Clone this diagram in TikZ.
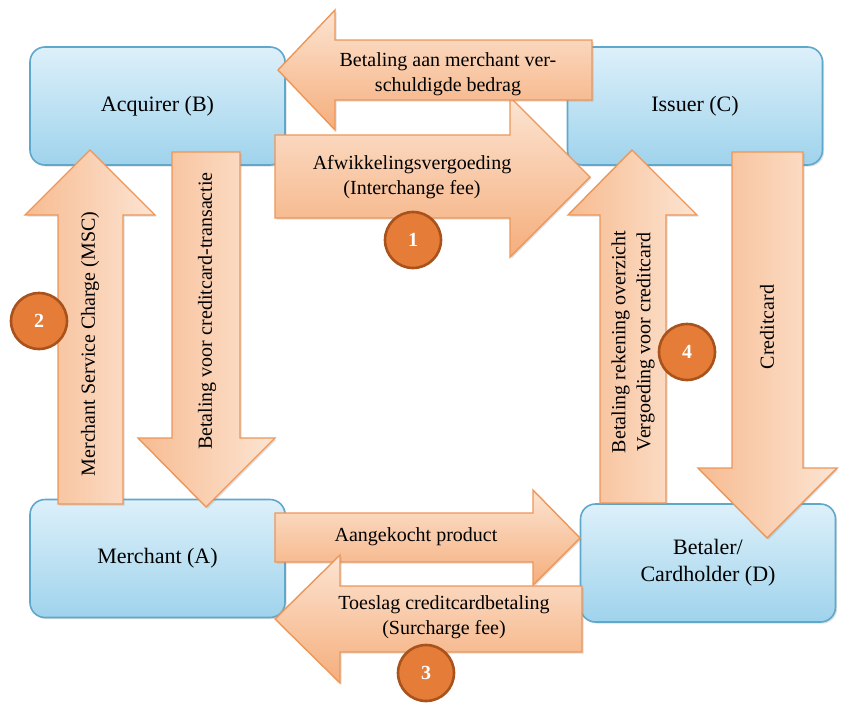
\documentclass[tikz,border=0pt]{standalone}
\usepackage{amsmath}
\usepackage{fontspec}
\setmainfont{Liberation Serif}
\usepackage{tikz}
\usetikzlibrary{arrows, calc, positioning, shapes, shadows}

\definecolor{boxtop}{HTML}{DDF0FA}
\definecolor{boxbot}{HTML}{9FD3EC}
\definecolor{boxline}{HTML}{5FA8CC}
\definecolor{arrlight}{HTML}{FCE4D2}
\definecolor{arrdark}{HTML}{F5AE7C}
\definecolor{arrline}{HTML}{EE9658}
\definecolor{badgefill}{HTML}{E57C38}
\definecolor{badgeline}{HTML}{A9521C}

\tikzset{
  party/.style={draw=boxline, line width=.8pt, rounded corners=7.5pt,
    top color=boxtop, bottom color=boxbot, minimum width=127.5pt,
    minimum height=59pt, align=center, text=black,
    font=\fontsize{11}{13.5}\selectfont,
    drop shadow={shadow xshift=.8pt, shadow yshift=-.8pt, opacity=.25}},
  hflow/.style={draw=arrline, line width=.7pt, top color=arrlight,
    bottom color=arrdark,
    drop shadow={shadow xshift=.8pt, shadow yshift=-.8pt, opacity=.25}},
  vflow/.style={draw=arrline, line width=.7pt, left color=arrdark!75!arrlight,
    right color=arrlight,
    drop shadow={shadow xshift=.8pt, shadow yshift=-.8pt, opacity=.25}},
  lbl/.style={align=center, text=black, inner sep=0pt,
    font=\fontsize{10}{12.5}\selectfont},
  badge/.style={circle, draw=badgeline, line width=1.3pt, fill=badgefill,
    minimum size=28pt, inner sep=0pt, text=white,
    font=\fontsize{10}{10}\selectfont\bfseries}
}

\begin{document}
\begin{tikzpicture}[x=.5pt, y=-.5pt]
    \useasboundingbox (0,0) rectangle (841,702);

    % partijen
    \node[party] (acquirer) at (157.5,106) {Acquirer (B)};
    \node[party] (issuer) at (695,106) {Issuer (C)};
    \node[party] (merchant) at (157.5,558.5) {Merchant (A)};
    \node[party] (cardholder) at (708,563) {Betaler/\\Cardholder (D)};

    % boven: B <-> C
    \draw[hflow] (275,135) -- (510,135) -- (510,97) -- (590,177) -- (510,257) -- (510,218) -- (275,218) -- cycle;
    \node[lbl] (interchange) at (412,177) {Afwikkelingsvergoeding\\(Interchange fee)};
    \draw[hflow] (592,40) -- (335,40) -- (335,10) -- (278,70) -- (335,130) -- (335,100) -- (592,100) -- cycle;
    \node[lbl] (settle) at (448,74) {Betaling aan merchant ver-\\schuldigde bedrag};

    % links: A <-> B
    \draw[vflow] (58,504) -- (58,215) -- (25,215) -- (90,150) -- (155,215) -- (123,215) -- (123,504) -- cycle;
    \node[lbl, rotate=90] (msc) at (90,344) {Merchant Service Charge (MSC)};
    \draw[vflow] (172,152) -- (240,152) -- (240,438) -- (275,438) -- (206,507) -- (138,438) -- (172,438) -- cycle;
    \node[lbl, rotate=90] (payment) at (207,311) {Betaling voor creditcard-transactie};

    % rechts: C <-> D
    \draw[vflow] (600,503) -- (600,215) -- (568,215) -- (632,150) -- (697,215) -- (666,215) -- (666,503) -- cycle;
    \node[lbl, rotate=90] (statement) at (633,342) {Betaling rekening overzicht\\Vergoeding voor creditcard};
    \draw[vflow] (732,152) -- (803,152) -- (803,468) -- (837,468) -- (767,538) -- (698,468) -- (732,468) -- cycle;
    \node[lbl, rotate=90] (card) at (767,327) {Creditcard};

    % onder: A <-> D
    \draw[hflow] (275,513) -- (533,513) -- (533,490) -- (580,538) -- (533,585) -- (533,562) -- (275,562) -- cycle;
    \node[lbl] (product) at (416,537) {Aangekocht product};
    \draw[hflow] (582,586) -- (340,586) -- (340,555) -- (275,619) -- (340,683) -- (340,652) -- (582,652) -- cycle;
    \node[lbl] (surcharge) at (444,617) {Toeslag creditcardbetaling\\(Surcharge fee)};

    % nummers
    \node[badge] (n1) at (413,240) {1};
    \node[badge] (n2) at (39,321) {2};
    \node[badge] (n3) at (426,673) {3};
    \node[badge] (n4) at (687,352) {4};
\end{tikzpicture}
\end{document}
